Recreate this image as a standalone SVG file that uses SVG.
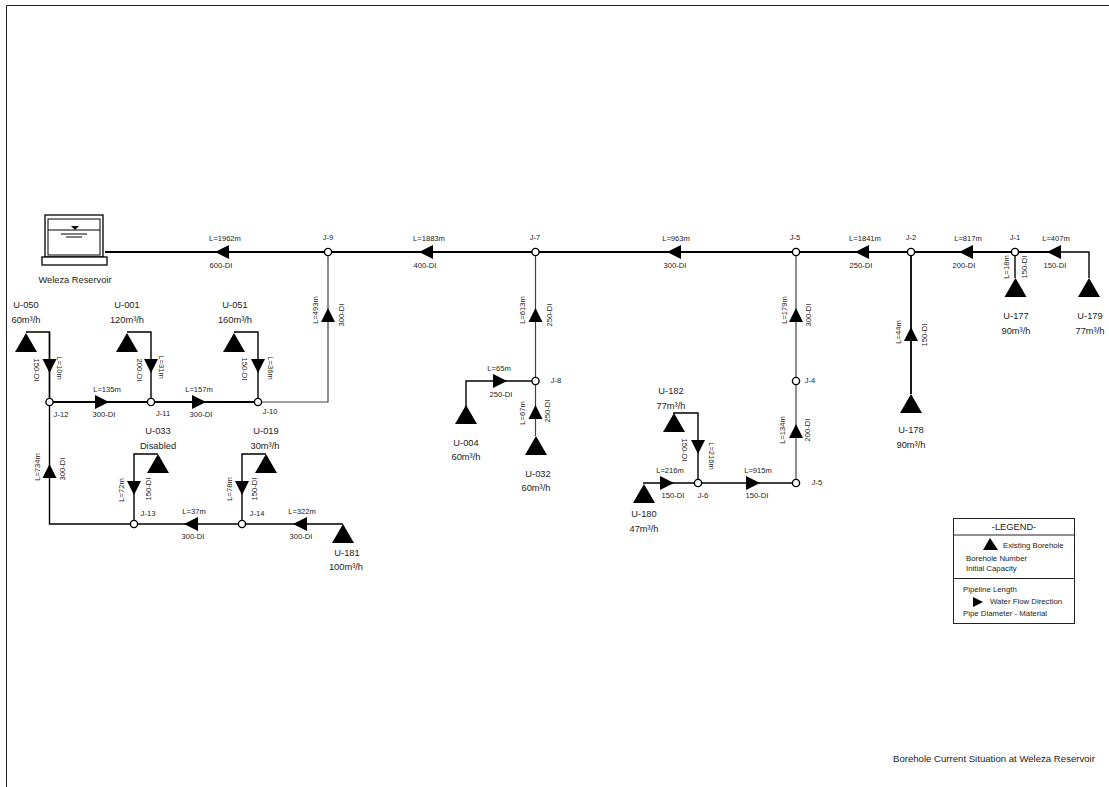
<svg xmlns="http://www.w3.org/2000/svg" width="1109" height="787" viewBox="0 0 1109 787">
<style>
text{font-family:"Liberation Sans",Arial,sans-serif;fill:#222;text-anchor:middle}
.s{font-size:7.6px}.n{font-size:9.3px}.j{font-size:7.6px}.l{font-size:7.8px;text-anchor:start}
.p{fill:none;stroke:#000;stroke-width:1.4}.t{stroke-width:1.8}.g{stroke:#444;stroke-width:1.2}
.f{fill:#000}.jn{fill:#fff;stroke:#000;stroke-width:1.4}
.r{fill:#fff;stroke:#000;stroke-width:1.3}
</style>
<defs>
<polygon id="tri" class="f" points="0,0 11,19 -11,19"/>
<polygon id="ar" class="f" points="7,0 -7,-7 -7,7"/>
<circle id="jc" class="jn" r="3.6"/>
</defs>
<rect width="1109" height="787" fill="#fff"/>
<path d="M6.5,787V5.5H1109" fill="none" stroke="#222" stroke-width="1"/>
<g id="connectors">
<path class="p t" d="M105,252H1060"/>
<path class="p" d="M1060,252H1089V278"/>
<path class="p" d="M49.5,332V524H343"/>
<path class="p t" d="M49.5,402H258"/>
<path class="p g" d="M258,402H328V252"/>
<path class="p" d="M26,332H49.5V402M127,332H151V402M234,332H258V402"/>
<path class="p" d="M158,454H134V524M266,454H242V524"/>
<path class="p g" d="M535.5,252V436"/>
<path class="p" d="M466,407V381H535.5"/>
<path class="p g" d="M796,252V483"/>
<path class="p" d="M643,483H796M673,413H698V483"/>
<path class="p t" d="M911,252V394"/>
<path class="p" d="M1015,252V278"/>
<g id="arrows">
<use href="#ar" transform="translate(222,252) rotate(180)"/>
<use href="#ar" transform="translate(426,252) rotate(180)"/>
<use href="#ar" transform="translate(674,252) rotate(180)"/>
<use href="#ar" transform="translate(862,252) rotate(180)"/>
<use href="#ar" transform="translate(966,252) rotate(180)"/>
<use href="#ar" transform="translate(1054,252) rotate(180)"/>
<use href="#ar" transform="translate(102,402)"/>
<use href="#ar" transform="translate(199,402)"/>
<use href="#ar" transform="translate(328,315) rotate(-90)"/>
<use href="#ar" transform="translate(49.5,366) rotate(90)"/>
<use href="#ar" transform="translate(151,366) rotate(90)"/>
<use href="#ar" transform="translate(258,366) rotate(90)"/>
<use href="#ar" transform="translate(49.5,471) rotate(-90)"/>
<use href="#ar" transform="translate(134,488) rotate(90)"/>
<use href="#ar" transform="translate(242,488) rotate(90)"/>
<use href="#ar" transform="translate(191,524) rotate(180)"/>
<use href="#ar" transform="translate(300,524) rotate(180)"/>
<use href="#ar" transform="translate(535.5,315) rotate(-90)"/>
<use href="#ar" transform="translate(535.5,412) rotate(-90)"/>
<use href="#ar" transform="translate(500,381)"/>
<use href="#ar" transform="translate(796,315) rotate(-90)"/>
<use href="#ar" transform="translate(796,431) rotate(-90)"/>
<use href="#ar" transform="translate(667,483)"/>
<use href="#ar" transform="translate(753,483)"/>
<use href="#ar" transform="translate(698,447) rotate(90)"/>
<use href="#ar" transform="translate(911,334) rotate(-90)"/>
</g>
</g>
<g id="labels">
<text class="s" x="225" y="241">L=1962m</text><text class="s" x="221" y="268">600-DI</text>
<text class="s" x="429" y="241">L=1883m</text><text class="s" x="425" y="268">400-DI</text>
<text class="s" x="676" y="241">L=963m</text><text class="s" x="675" y="268">300-DI</text>
<text class="s" x="865" y="241">L=1841m</text><text class="s" x="861" y="268">250-DI</text>
<text class="s" x="968" y="241">L=817m</text><text class="s" x="964" y="268">200-DI</text>
<text class="s" x="1056" y="241">L=407m</text><text class="s" x="1055" y="268">150-DI</text>
<text class="s" x="107" y="392">L=135m</text><text class="s" x="104" y="417">300-DI</text>
<text class="s" x="199" y="392">L=157m</text><text class="s" x="201" y="417">300-DI</text>
<text class="s" x="194" y="514">L=37m</text><text class="s" x="193" y="539">300-DI</text>
<text class="s" x="302" y="514">L=322m</text><text class="s" x="301" y="539">300-DI</text>
<text class="s" x="499" y="371">L=65m</text><text class="s" x="501" y="397">250-DI</text>
<text class="s" x="670" y="473">L=216m</text><text class="s" x="673" y="498">150-DI</text>
<text class="s" x="758" y="473">L=915m</text><text class="s" x="757" y="498">150-DI</text>
<text class="s" transform="translate(57,368) rotate(90)">L=10m</text><text class="s" transform="translate(34,370) rotate(90)">150-DI</text>
<text class="s" transform="translate(159,367) rotate(90)">L=31m</text><text class="s" transform="translate(137,370) rotate(90)">200-DI</text>
<text class="s" transform="translate(268,368) rotate(90)">L=36m</text><text class="s" transform="translate(242,369) rotate(90)">150-DI</text>
<text class="s" transform="translate(318,310) rotate(-90)">L=493m</text><text class="s" transform="translate(344,315) rotate(-90)">300-DI</text>
<text class="s" transform="translate(40,467) rotate(-90)">L=734m</text><text class="s" transform="translate(65,469) rotate(-90)">300-DI</text>
<text class="s" transform="translate(124,490) rotate(-90)">L=72m</text><text class="s" transform="translate(151,489) rotate(-90)">150-DI</text>
<text class="s" transform="translate(232,489) rotate(-90)">L=78m</text><text class="s" transform="translate(257,489) rotate(-90)">150-DI</text>
<text class="s" transform="translate(525,310) rotate(-90)">L=613m</text><text class="s" transform="translate(552,315) rotate(-90)">250-DI</text>
<text class="s" transform="translate(525,413) rotate(-90)">L=67m</text><text class="s" transform="translate(550,411) rotate(-90)">250-DI</text>
<text class="s" transform="translate(787,310) rotate(-90)">L=179m</text><text class="s" transform="translate(811,315) rotate(-90)">300-DI</text>
<text class="s" transform="translate(785,430) rotate(-90)">L=134m</text><text class="s" transform="translate(810,430) rotate(-90)">200-DI</text>
<text class="s" transform="translate(709,456) rotate(90)">L=216m</text><text class="s" transform="translate(682,450) rotate(90)">150-DI</text>
<text class="s" transform="translate(901,332) rotate(-90)">L=44m</text><text class="s" transform="translate(927,335) rotate(-90)">150-DI</text>
<text class="s" transform="translate(1009,267) rotate(-90)">L=18m</text><text class="s" transform="translate(1027,267) rotate(-90)">150-DI</text>
</g>
<g id="reservoir">
<rect class="r" x="45" y="215" width="58" height="42"/>
<rect x="48" y="219" width="52" height="36" fill="none" stroke="#000" stroke-width="1"/>
<path d="M48,230H100M61,234H87M66,237H82" stroke="#000" stroke-width="1"/>
<polygon class="f" points="71,226 79,226 75,230"/>
<rect class="r" x="42" y="257" width="65" height="8"/>
<text class="n" x="75" y="283">Weleza Reservoir</text>
</g>
<g id="J-9"><use href="#jc" x="328" y="252"/><text class="j" x="328" y="240">J-9</text></g>
<g id="J-7"><use href="#jc" x="535.5" y="252"/><text class="j" x="535" y="240">J-7</text></g>
<g id="J-5"><use href="#jc" x="796" y="252"/><text class="j" x="795" y="240">J-5</text></g>
<g id="J-2"><use href="#jc" x="911" y="252"/><text class="j" x="911" y="240">J-2</text></g>
<g id="J-1"><use href="#jc" x="1015" y="252"/><text class="j" x="1015" y="240">J-1</text></g>
<g id="J-12"><use href="#jc" x="49.5" y="402"/><text class="j" x="61" y="417">J-12</text></g>
<g id="J-11"><use href="#jc" x="151" y="402"/><text class="j" x="163" y="416">J-11</text></g>
<g id="J-10"><use href="#jc" x="258" y="402"/><text class="j" x="270" y="414">J-10</text></g>
<g id="J-13"><use href="#jc" x="134" y="524"/><text class="j" x="148" y="516">J-13</text></g>
<g id="J-14"><use href="#jc" x="242" y="524"/><text class="j" x="257" y="516">J-14</text></g>
<g id="J-8"><use href="#jc" x="535.5" y="381"/><text class="j" x="556" y="383">J-8</text></g>
<g id="J-4"><use href="#jc" x="796" y="381"/><text class="j" x="810" y="383">J-4</text></g>
<g id="J-3"><use href="#jc" x="796" y="483"/><text class="j" x="817" y="485">J-5</text></g>
<g id="J-6"><use href="#jc" x="698" y="483"/><text class="j" x="703" y="498">J-6</text></g>
<g id="U-050"><use href="#tri" x="26" y="333"/><text class="n" x="26" y="308">U-050</text><text class="n" x="26" y="323">60m³/h</text></g>
<g id="U-001"><use href="#tri" x="127" y="333"/><text class="n" x="127" y="308">U-001</text><text class="n" x="127" y="323">120m³/h</text></g>
<g id="U-051"><use href="#tri" x="234" y="333"/><text class="n" x="235" y="308">U-051</text><text class="n" x="235" y="323">160m³/h</text></g>
<g id="U-033"><use href="#tri" x="158" y="454"/><text class="n" x="158" y="434">U-033</text><text class="n" x="158" y="449">Disabled</text></g>
<g id="U-019"><use href="#tri" x="266" y="454"/><text class="n" x="266" y="434">U-019</text><text class="n" x="265" y="449">30m³/h</text></g>
<g id="U-181"><use href="#tri" x="343" y="524"/><text class="n" x="347" y="556">U-181</text><text class="n" x="346" y="570">100m³/h</text></g>
<g id="U-004"><use href="#tri" x="466" y="405"/><text class="n" x="466" y="446">U-004</text><text class="n" x="466" y="460">60m³/h</text></g>
<g id="U-032"><use href="#tri" x="536" y="436"/><text class="n" x="538" y="477">U-032</text><text class="n" x="536" y="491">60m³/h</text></g>
<g id="U-182"><use href="#tri" x="674" y="413"/><text class="n" x="671" y="394">U-182</text><text class="n" x="671" y="409">77m³/h</text></g>
<g id="U-180"><use href="#tri" x="644" y="484"/><text class="n" x="644" y="517">U-180</text><text class="n" x="644" y="532">47m³/h</text></g>
<g id="U-178"><use href="#tri" x="911" y="394"/><text class="n" x="911" y="433">U-178</text><text class="n" x="911" y="448">90m³/h</text></g>
<g id="U-177"><use href="#tri" x="1015.5" y="278"/><text class="n" x="1016" y="319">U-177</text><text class="n" x="1016" y="334">90m³/h</text></g>
<g id="U-179"><use href="#tri" x="1089" y="278"/><text class="n" x="1090" y="319">U-179</text><text class="n" x="1090" y="334">77m³/h</text></g>
<g id="legend">
<rect x="953.5" y="518.5" width="121" height="105" fill="#fff" stroke="#222" stroke-width="1"/>
<path d="M953.5,535H1074.5M953.5,578.5H1074.5" stroke="#222" stroke-width="1"/>
<text class="n" x="1014" y="530">-LEGEND-</text>
<polygon class="f" points="990,538 998,550 983,550"/>
<text class="l" x="1003" y="548">Existing Borehole</text>
<text class="l" x="966" y="561">Borehole Number</text>
<text class="l" x="966" y="571">Initial Capacity</text>
<text class="l" x="963" y="592">Pipeline Length</text>
<polygon class="f" points="983,602 973,597 973,607"/>
<text class="l" x="990" y="604">Water Flow Direction</text>
<text class="l" x="963" y="616">Pipe Diameter - Material</text>
</g>
<text id="title" x="893" y="762" style="font-size:9.6px;text-anchor:start">Borehole Current Situation at Weleza Reservoir</text>
</svg>
